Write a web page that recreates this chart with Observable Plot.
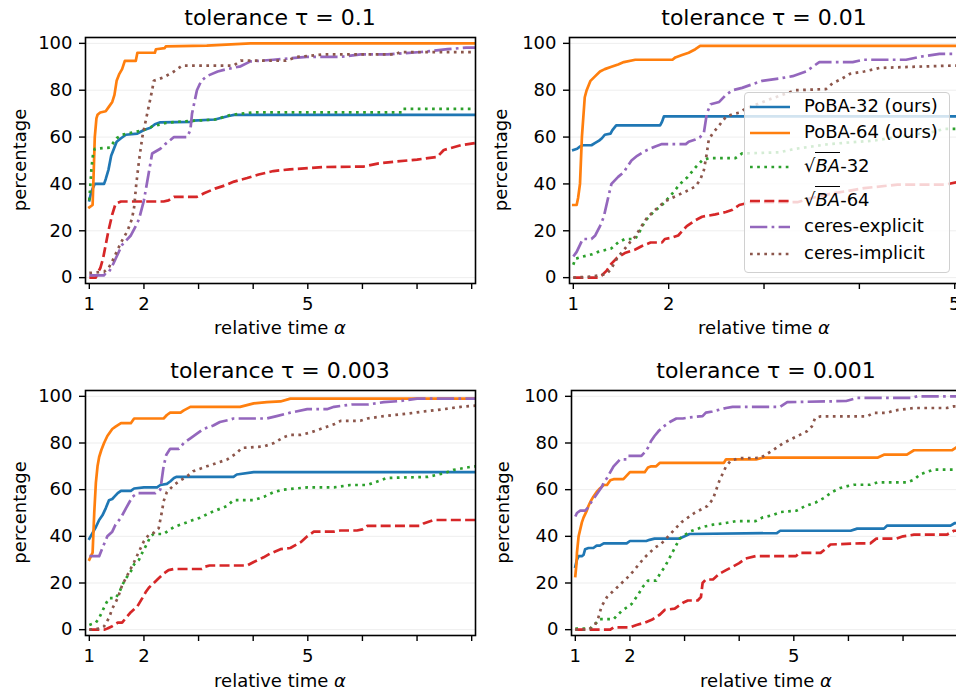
<!DOCTYPE html>
<html><head><meta charset="utf-8">
<script src="https://cdn.jsdelivr.net/npm/d3@7"></script>
<script src="https://cdn.jsdelivr.net/npm/@observablehq/plot@0.6"></script>
<style>
body{margin:0;background:#fff;}
#page{position:relative;width:956px;height:696px;overflow:hidden;background:#fff;font-family:"DejaVu Sans",sans-serif;color:#000;}
.panel{position:absolute;z-index:1;}
#overlay{position:absolute;left:0;top:0;z-index:2;pointer-events:none;}
#legendBox{position:absolute;left:744px;top:92px;width:206px;height:181px;box-sizing:border-box;border:1.3px solid #d0d0d0;border-radius:4px;background:rgba(255,255,255,0.8);z-index:3;}
.lrow{position:absolute;height:26px;line-height:26px;font-size:18px;z-index:4;white-space:nowrap;}
.lhandle{position:absolute;z-index:4;}
.ov{border-top:1.5px solid #000;padding-top:2px;font-style:italic;}
</style></head>
<body><div id="page"></div>
<script>
// ---------- labels ----------
const seriesNames = ["PoBA-32 (ours)", "PoBA-64 (ours)", "√BA-32", "√BA-64", "ceres-explicit", "ceres-implicit"];
const titles = ["tolerance τ = 0.1", "tolerance τ = 0.01", "tolerance τ = 0.003", "tolerance τ = 0.001"];
const xTicks8 = [1,2,3,4,5,6,7,8];
const xTicks5 = [1,2,3,4,5];
const xLabeled = [1,2,5];
const yTicks = [0,20,40,60,80,100];

// ---------- tolerance 0.1 ----------
const t1_poba32 = [[1,33],[1.03,36],[1.06,38],[1.1,40],[1.27,40],[1.3,42],[1.35,46],[1.4,52],[1.45,55],[1.5,58],[1.58,59.5],[1.67,61],[1.88,61.5],[2.0,63],[2.12,64],[2.2,65.5],[2.3,66.3],[2.85,66.5],[2.9,67],[3.3,67.5],[3.55,69],[3.65,69.5],[8.07,69.5]];
const t1_poba64 = [[1,30],[1.06,31],[1.08,45],[1.1,60],[1.13,68],[1.15,69.5],[1.2,70.5],[1.3,71],[1.36,73],[1.42,75],[1.46,78],[1.5,84],[1.55,87],[1.6,89],[1.65,92.5],[1.85,92.5],[1.88,96],[2.2,96],[2.22,97.5],[2.38,98],[2.4,98.7],[3.15,99],[3.95,100],[8.07,100]];
const t1_sqrt32 = [[1,33],[1.02,40],[1.04,47],[1.07,53],[1.1,55],[1.38,55.5],[1.42,57],[1.5,59.5],[1.6,61],[1.8,62],[2.0,63],[2.15,64.5],[2.4,66],[2.6,66.5],[3.3,67.5],[3.6,69.5],[4.0,70.5],[6.73,70.5],[6.75,72],[8.07,72]];
const t1_sqrt64 = [[1,0],[1.12,0],[1.15,2],[1.2,4],[1.25,8],[1.3,14],[1.35,20],[1.42,27],[1.48,31.5],[1.58,32.5],[2.36,32.5],[2.45,33],[2.55,34.5],[2.97,34.5],[3.1,36],[3.3,38],[3.5,39.5],[3.65,41],[3.89,42.5],[4.1,44],[4.37,45.5],[4.67,46.2],[5.28,47.2],[6.02,47.4],[6.3,48.8],[6.6,49.5],[7.0,50.4],[7.37,51.5],[7.49,54.5],[7.8,56.5],[8.07,57.5]];
const t1_explicit = [[1,1],[1.27,1],[1.3,2],[1.36,2.5],[1.42,5],[1.52,10],[1.6,14],[1.76,18],[1.85,22],[1.91,25],[2.0,33],[2.09,45],[2.15,53],[2.3,55],[2.39,57],[2.55,60],[2.79,60],[2.85,63],[2.88,70],[2.97,80],[3.05,84],[3.15,86],[3.35,88],[3.52,89],[3.77,90.2],[3.95,92.3],[4.37,93],[4.98,94.2],[5.6,94.2],[5.97,95.3],[6.46,95.3],[7.07,96.3],[7.56,97.5],[7.9,98.2],[8.07,98.2]];
const t1_implicit = [[1,2],[1.27,2.5],[1.35,4],[1.42,7],[1.5,11],[1.58,15],[1.7,20],[1.78,25],[1.82,30],[1.86,40],[1.91,50],[1.97,60],[2.06,70],[2.15,80],[2.18,84],[2.36,85.5],[2.55,88],[2.7,90.5],[3.64,90.5],[3.77,92.6],[4.6,92.6],[4.8,94.2],[5.3,95.3],[6.6,95.3],[6.7,96.3],[8.07,96.3]];

// ---------- tolerance 0.01 ----------
const t2_poba32 = [[1,54.5],[1.04,55],[1.07,56],[1.1,56.5],[1.19,56.5],[1.23,57.5],[1.27,58.5],[1.3,59.5],[1.33,61],[1.39,61.5],[1.41,63],[1.45,65],[1.91,65],[1.93,66.5],[1.95,68.8],[5.05,68.8]];
const t2_poba64 = [[1,31],[1.035,31],[1.05,34],[1.07,40],[1.09,60],[1.12,77],[1.14,80],[1.18,84],[1.23,86],[1.28,88],[1.33,89],[1.4,90],[1.47,91],[1.53,92],[1.65,93],[2.04,93],[2.07,94],[2.14,95],[2.21,96],[2.28,97.5],[2.33,98.9],[5.05,98.9]];
const t2_sqrt32 = [[1,5.5],[1.02,8],[1.1,9],[1.2,10],[1.26,11],[1.4,12.5],[1.47,15],[1.54,16.5],[1.65,16.5],[1.7,20],[1.75,24],[1.84,28],[1.93,31],[2.02,35],[2.12,40],[2.2,43],[2.28,47],[2.35,50],[2.42,51],[2.7,51],[2.77,53],[3.16,53.5],[3.33,55],[3.68,57],[4.15,58.5],[4.56,61],[4.75,62],[4.89,63.5],[5.05,63.5]];
const t2_sqrt64 = [[1,0],[1.26,0],[1.3,1],[1.35,3],[1.4,6],[1.46,8.5],[1.54,10.5],[1.65,12],[1.72,13.5],[1.81,15],[1.93,15],[1.96,16.5],[2.03,17],[2.1,18],[2.19,22],[2.28,24.5],[2.35,26],[2.49,27],[2.6,28],[2.67,29],[2.74,31],[2.86,32.2],[3.35,32.2],[3.5,34],[3.7,35.8],[4.05,38.2],[4.4,39.7],[4.9,39.7],[5.05,41]];
const t2_explicit = [[1,9],[1.035,11],[1.07,14],[1.1,16.5],[1.19,16.5],[1.23,18],[1.28,22],[1.32,26],[1.37,35],[1.4,40],[1.47,43],[1.53,45],[1.56,47],[1.61,50],[1.67,52],[1.75,54],[1.86,56],[1.93,57],[2.18,57],[2.21,58],[2.28,59],[2.33,60],[2.37,62],[2.4,70],[2.44,74],[2.53,75],[2.6,78],[2.67,80],[2.77,81],[2.98,84],[3.16,85],[3.3,86],[3.44,88],[3.51,90],[3.58,92],[3.93,92],[4.04,93],[4.49,93],[4.67,94.5],[4.84,95.5],[5.05,95.5]];
const t2_implicit = [[1,0],[1.2,0.5],[1.35,1.5],[1.4,4],[1.47,9],[1.53,11.8],[1.6,15.4],[1.65,17.5],[1.7,21],[1.77,25.4],[1.86,29],[1.96,32.5],[2.07,34.7],[2.18,36.8],[2.28,38.9],[2.33,41.7],[2.37,46],[2.4,53],[2.42,58.8],[2.46,61.5],[2.53,65],[2.6,68.6],[2.67,69.8],[2.74,70.4],[2.8,72],[3.05,76],[3.33,80],[3.65,80.5],[3.72,83],[3.82,85],[3.9,87],[4.05,88],[4.21,89.5],[4.56,90],[4.98,90.5],[5.05,90.5]];

// ---------- tolerance 0.003 ----------
const t3_poba32 = [[1,39],[1.06,41.5],[1.12,44],[1.18,47],[1.24,49],[1.3,52],[1.36,55.5],[1.42,56],[1.46,57],[1.52,58.5],[1.58,59.5],[1.76,59.5],[1.82,60.5],[2.0,61],[2.24,61],[2.3,62],[2.42,62.5],[2.48,63.5],[2.55,65],[2.6,65.5],[3.64,65.5],[3.7,66.5],[4.01,67.5],[8.07,67.5]];
const t3_poba64 = [[1,30],[1.03,31.5],[1.06,33],[1.09,50],[1.12,63],[1.15,70],[1.18,74],[1.22,77],[1.27,80],[1.33,83],[1.42,86],[1.48,87],[1.58,88.5],[1.76,88.5],[1.82,90.5],[2.36,90.5],[2.42,92],[2.48,93],[2.67,93],[2.73,94],[2.85,95.5],[3.76,95.5],[4.01,97],[4.25,97.5],[4.5,97.8],[4.68,99],[8.07,99]];
const t3_sqrt32 = [[1,2],[1.06,2.5],[1.12,3],[1.18,5],[1.24,8],[1.3,11],[1.36,13.5],[1.48,13.5],[1.55,16],[1.6,19],[1.67,22],[1.76,25],[1.82,28],[1.91,30],[1.97,33],[2.06,37],[2.12,40],[2.18,41],[2.36,41],[2.45,42.5],[2.55,44],[2.67,45],[2.79,46],[2.9,47],[3.03,48],[3.2,50],[3.52,53],[3.64,55.5],[4.01,55.5],[4.2,57],[4.38,59],[4.56,60],[4.99,61],[5.48,61],[5.78,62],[6.09,62],[6.21,63],[6.45,65],[7.2,65.5],[7.49,67],[7.67,68.5],[8.04,70],[8.07,70]];
const t3_sqrt64 = [[1,0],[1.27,0],[1.33,0.5],[1.42,1.5],[1.52,3],[1.6,3],[1.67,5],[1.76,7.5],[1.88,10],[1.97,13.5],[2.03,16],[2.09,18],[2.18,20],[2.27,22],[2.36,24],[2.45,25.5],[2.55,26],[3.06,26],[3.12,27],[3.2,27.5],[3.89,27.5],[4.01,29],[4.19,31],[4.3,32.5],[4.5,34.5],[4.68,35],[4.87,37.5],[4.99,40],[5.11,42],[5.48,42],[5.6,42.5],[5.9,42.5],[6.0,43],[6.09,44.5],[7.06,44.5],[7.12,45.5],[7.3,47],[8.07,47]];
const t3_explicit = [[1,31.5],[1.18,31.5],[1.24,35],[1.33,40],[1.42,42],[1.48,45],[1.58,48],[1.67,52],[1.73,54.5],[1.79,57],[1.85,58],[1.88,58.5],[2.21,58.5],[2.3,60],[2.36,70],[2.41,75],[2.48,77.5],[2.64,77.5],[2.73,80],[2.85,82],[2.97,84],[3.09,86],[3.27,87.5],[3.39,89],[3.58,90],[3.64,90.5],[4.25,90.5],[4.43,91.5],[4.68,93],[4.99,94.5],[5.35,94.5],[5.48,95.5],[5.8,96.5],[6.1,96.5],[6.39,97.5],[6.7,98],[7.0,99],[8.07,99]];
const t3_implicit = [[1,0],[1.2,0.5],[1.27,1.4],[1.36,5],[1.42,9],[1.52,13.5],[1.6,19],[1.7,23.5],[1.82,29],[1.91,33.5],[2.0,38],[2.09,40.7],[2.18,41.5],[2.27,43.5],[2.33,50.7],[2.36,55],[2.42,59],[2.55,62],[2.67,64],[2.79,65.7],[2.9,67.9],[3.03,69],[3.15,70],[3.33,71.4],[3.52,72.9],[3.7,75.7],[3.79,77.9],[4.19,78.5],[4.38,80],[4.56,82.5],[4.68,83.5],[4.87,83.5],[5.05,84.5],[5.23,86],[5.48,88],[5.6,89.5],[5.96,89.5],[6.09,90.5],[6.39,91.5],[6.8,92.5],[7.12,93.5],[7.49,94.5],[7.8,95.5],[8.07,96]];

// ---------- tolerance 0.001 ----------
const t4_poba32 = [[1,27],[1.03,30],[1.06,31.5],[1.12,31.5],[1.15,32],[1.18,34.5],[1.24,35],[1.33,35],[1.39,36],[1.45,36],[1.52,37],[1.94,37],[2.0,38],[2.3,38],[2.36,38.5],[2.45,39],[2.9,39],[3.0,40],[3.09,41],[4.69,41.4],[4.75,42.4],[6.04,42.4],[6.16,43.3],[6.65,43.3],[6.71,44.6],[7.87,44.6],[7.95,45.7],[8.07,45.7]];
const t4_poba64 = [[1,23],[1.02,28],[1.03,33],[1.06,40],[1.09,43],[1.12,46],[1.15,48],[1.21,51],[1.24,53],[1.28,55],[1.33,57],[1.39,59],[1.45,60.5],[1.52,62],[1.58,62],[1.64,64],[1.7,64.5],[1.88,64.5],[1.94,66],[2.0,67.5],[2.27,67.5],[2.33,69.5],[2.39,70],[2.48,70],[2.55,71.5],[3.72,71.5],[3.76,73],[4.31,73],[4.43,73.7],[6.53,73.7],[6.65,75],[7.07,75],[7.2,76.9],[7.9,76.9],[8.0,78.5],[8.07,78.5]];
const t4_sqrt32 = [[1,0.5],[1.27,0.5],[1.3,1],[1.33,2],[1.39,3],[1.45,4.5],[1.7,4.5],[1.76,6],[1.85,8],[1.94,9.5],[2.03,11],[2.09,13],[2.15,15],[2.24,18.5],[2.33,21],[2.48,21],[2.55,24],[2.64,27],[2.73,31],[2.82,35],[2.91,39],[3.0,40.5],[3.09,42],[3.21,43],[3.33,44],[3.52,45],[3.7,45.5],[3.94,46.5],[4.3,46.5],[4.42,48],[4.6,49],[4.75,50.4],[5.05,51],[5.2,52.9],[5.4,54.5],[5.55,56.4],[5.7,59],[5.85,60.7],[5.98,61.5],[6.1,62.1],[6.4,62.1],[6.53,63.1],[7.07,63.1],[7.2,64.3],[7.31,66.5],[7.38,67.1],[7.56,68.6],[8.07,68.6]];
const t4_sqrt64 = [[1,0],[1.64,0],[1.7,1],[2.0,1],[2.12,2],[2.27,3],[2.42,4.5],[2.55,6.5],[2.64,8.5],[2.82,9],[2.97,11.5],[3.06,12.5],[3.24,12.5],[3.3,14],[3.33,20],[3.39,21.5],[3.52,21.5],[3.64,24],[3.76,25.5],[3.88,27],[4.0,28.5],[4.12,30.5],[4.3,31.5],[5.04,31.5],[5.1,32.9],[5.49,32.9],[5.6,35],[5.67,36.5],[6.21,37],[6.4,37],[6.51,39],[6.88,39],[7.0,40],[7.2,40.7],[7.8,40.7],[7.93,42.4],[8.07,42.4]];
const t4_explicit = [[1,48.5],[1.03,50],[1.09,51],[1.18,51],[1.24,52.5],[1.3,55],[1.36,57],[1.42,59],[1.48,61],[1.52,63],[1.58,65],[1.64,67.5],[1.7,70],[1.76,71.5],[1.82,73],[1.94,73],[1.97,74.5],[2.21,74.5],[2.27,76],[2.33,78],[2.39,81],[2.45,83],[2.52,85],[2.61,87],[2.73,89],[2.85,90.5],[2.97,90.5],[3.09,91],[3.33,91.5],[3.39,93],[3.51,93.5],[3.76,95],[3.88,95.5],[4.75,95.5],[4.88,97.5],[5.96,98],[6.16,99.3],[7.14,99.3],[7.26,100],[8.07,100]];
const t4_implicit = [[1,0],[1.24,0],[1.3,1],[1.36,2],[1.42,5],[1.48,10],[1.58,14],[1.67,16],[1.76,18],[1.85,20],[1.94,22],[2.06,25],[2.18,28.5],[2.27,31],[2.36,33],[2.45,35],[2.58,37],[2.7,40],[2.82,43],[2.94,46],[3.06,48],[3.18,50],[3.3,51.5],[3.42,53],[3.52,56],[3.58,60],[3.64,64],[3.7,67],[3.76,70],[3.85,72.5],[4.0,73.5],[4.39,73.6],[4.63,77.1],[4.81,80],[5.06,82.9],[5.24,85],[5.33,87.1],[5.39,90.7],[5.49,91.4],[6.34,91.4],[6.46,92.9],[6.71,92.9],[6.83,93.9],[7.2,95],[7.8,95],[7.93,95.7],[8.07,95.7]];

// ---------- styles ----------
const colors = ["#1f77b4","#ff7f0e","#2ca02c","#d62728","#9467bd","#8c564b"];
const LW = 2.7;
const dashes = [null, null, "2.7,4.45", "10,4.3", "17.3,4.3,2.7,4.3", "2.7,4.45"];

const panelDefs = [
  {data:[t1_poba32,t1_poba64,t1_sqrt32,t1_sqrt64,t1_explicit,t1_implicit], left:0, top:0, width:480, height:340, mL:85, mR:5, mT:37, mB:57, xDomain:[0.93,8.07], xTicks:xTicks8, cx:280, titleY:25, xlabY:334, ylX:26},
  {data:[t2_poba32,t2_poba64,t2_sqrt32,t2_sqrt64,t2_explicit,t2_implicit], left:478, top:0, width:484, height:340, mL:91, mR:3, mT:37, mB:57, xDomain:[0.96,5.05], xTicks:xTicks5, cx:764, titleY:25, xlabY:334, ylX:507},
  {data:[t3_poba32,t3_poba64,t3_sqrt32,t3_sqrt64,t3_explicit,t3_implicit], left:0, top:340, width:480, height:356, mL:85, mR:5, mT:50, mB:61, xDomain:[0.93,8.07], xTicks:xTicks8, cx:280, titleY:378, xlabY:687, ylX:26},
  {data:[t4_poba32,t4_poba64,t4_sqrt32,t4_sqrt64,t4_explicit,t4_implicit], left:478, top:340, width:486, height:356, mL:93, mR:3, mT:50, mB:61, xDomain:[0.93,8.07], xTicks:xTicks8, cx:766, titleY:378, xlabY:687, ylX:509}
];

const page = document.getElementById("page");

panelDefs.forEach((p) => {
  const lines = p.data.map((arr, i) => Plot.line(arr, {
    x: d => d[0], y: d => d[1],
    stroke: colors[i], strokeWidth: LW,
    strokeDasharray: dashes[i] || undefined,
    strokeLinecap: dashes[i] ? "butt" : "square",
    strokeLinejoin: "round",
    clip: true
  }));
  const chart = Plot.plot({
    width: p.width, height: p.height,
    marginLeft: p.mL, marginRight: p.mR, marginTop: p.mT, marginBottom: p.mB,
    style: {fontFamily: "DejaVu Sans", fontSize: "18px", color: "#000", background: "transparent", overflow: "visible"},
    x: {type: "linear", domain: p.xDomain},
    y: {type: "linear", domain: [-2.5, 102.5]},
    marks: [
      Plot.gridY(yTicks, {stroke: "#000", strokeOpacity: 0.07, strokeWidth: 1}),
      ...lines,
      Plot.frame({stroke: "#000", strokeWidth: 1.6}),
      Plot.axisX({ticks: p.xTicks, tickFormat: d => xLabeled.includes(d) ? String(d) : "", tickSize: 6, tickPadding: 8, strokeWidth: 1.4, label: null, fontVariant: "normal"}),
      Plot.axisY({ticks: yTicks, tickSize: 6, tickPadding: 7, strokeWidth: 1.4, label: null, fontVariant: "normal"})
    ]
  });
  chart.classList.add("panel");
  chart.style.left = p.left + "px";
  chart.style.top = p.top + "px";
  page.appendChild(chart);
});

// ---------- overlay texts: titles and axis labels ----------
const ov = d3.select(page).append("svg").attr("id", "overlay").attr("width", 956).attr("height", 696)
  .style("font-family", "DejaVu Sans").style("fill", "#000");
panelDefs.forEach((p, k) => {
  ov.append("text").attr("x", p.cx).attr("y", p.titleY).attr("text-anchor", "middle").style("font-size", "22px").text(titles[k]);
  const xl = ov.append("text").attr("x", p.cx).attr("y", p.xlabY).attr("text-anchor", "middle").style("font-size", "18px");
  xl.append("tspan").text("relative time ");
  xl.append("tspan").style("font-style", "italic").text("α");
  const cy = p.top + p.mT + (p.height - p.mT - p.mB) / 2;
  ov.append("text").attr("transform", `translate(${p.ylX},${cy}) rotate(-90)`).attr("text-anchor", "middle").style("font-size", "18px").text("percentage");
});

// ---------- legend (in the tau = 0.01 panel) ----------
const box = document.createElement("div");
box.id = "legendBox";
page.appendChild(box);
const rowY = [107, 133, 167, 201, 227, 254];
seriesNames.forEach((name, i) => {
  const h = d3.select(page).append("svg").attr("class", "lhandle").attr("width", 42).attr("height", 6)
    .style("left", "749px").style("top", (rowY[i] - 3) + "px");
  h.append("line").attr("x1", 1).attr("x2", 41).attr("y1", 3).attr("y2", 3)
    .attr("stroke", colors[i]).attr("stroke-width", LW)
    .attr("stroke-dasharray", dashes[i]).attr("stroke-linecap", "butt");
  const row = document.createElement("div");
  row.className = "lrow";
  row.style.left = "804px";
  row.style.top = (rowY[i] - 14) + "px";
  if (name.startsWith("√")) {
    const rest = name.slice(1); // "BA-32"
    const base = rest.slice(0, 2), suffix = rest.slice(2);
    row.innerHTML = `√<span class="ov">${base}</span>${suffix}`;
  } else {
    row.textContent = name;
  }
  page.appendChild(row);
});
</script>
</body></html>
